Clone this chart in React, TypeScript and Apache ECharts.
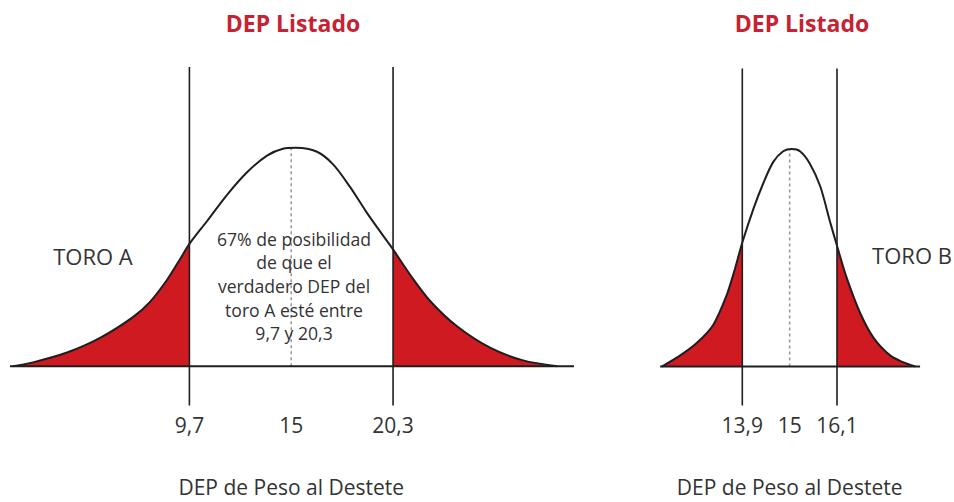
import React, { useEffect, useRef } from "react";
import * as echarts from "echarts";

// ---- Data ----
const TITLE = "DEP Listado";
const AXIS_NAME = "DEP de Peso al Destete";
const LABEL_A = "TORO A";
const LABEL_B = "TORO B";
const NOTE_A = "67% de posibilidad\nde que el\nverdadero DEP del\ntoro A esté entre\n9,7 y 20,3";

const MEAN_A = 15;
const BOUNDS_A = [9.7, 20.3];
const TICKS_A = [9.7, 15, 20.3];
const CURVE_A_X = [0.52, 1.56, 3.33, 5.05, 6.76, 7.65, 8.53, 9.21, 9.7, 10.62, 11.66, 12.7, 13.74, 14.57, 15.25, 16.34, 17.18, 18.06, 18.95, 19.78, 20.3, 21.18, 22.23, 23.63, 25.35, 27.07, 28.84];
const CURVE_A_Y = [0, 1.8, 6.3, 13.0, 22.5, 29.5, 39.5, 49.0, 56.0, 66.5, 78.5, 88.8, 96.4, 99.6, 100, 98.2, 92.4, 82.1, 70.1, 59.8, 53.5, 42.0, 29.9, 18.3, 8.5, 2.7, 0];
const BASE_A = [0.36, 29.72];

const MEAN_B = 15;
const BOUNDS_B = [13.9, 16.1];
const TICKS_B = [13.9, 15, 16.1];
const CURVE_B_X = [12.03, 12.45, 12.84, 13.22, 13.54, 13.73, 13.9, 14.16, 14.39, 14.62, 14.85, 15.05, 15.24, 15.47, 15.71, 15.94, 16.1, 16.33, 16.64, 16.95, 17.34, 17.63, 17.92];
const CURVE_B_Y = [0, 5.0, 10.8, 19.0, 33.0, 45.0, 57.0, 72.6, 84.4, 94.1, 99.0, 100, 99.0, 93.3, 82.9, 66.5, 55.5, 40.5, 24.5, 13.2, 5.0, 2.0, 0];
const BASE_B = [11.99, 18.03];

// ---- Style ----
const FONT = "Open Sans";
const RED_FILL = "#cf1a21";
const RED_TITLE = "#c62232";
const INK = "#1e1e1e";
const TEXT = "#333333";
const GUIDE_TOP = 137;
const GUIDE_BOTTOM = -17.9;

const fmt = (v: number) => String(v).replace(".", ",");

function panelSeries(
  idx: number,
  xs: number[],
  ys: number[],
  bounds: number[],
  mean: number,
  base: number[]
) {
  const pts = xs.map((x, i) => [x, ys[i]]);
  const leftTail = pts.filter((p) => p[0] <= bounds[0]);
  const rightTail = pts.filter((p) => p[0] >= bounds[1]);
  const peak = Math.max(...ys);
  const common = {
    type: "line",
    xAxisIndex: idx,
    yAxisIndex: idx,
    symbol: "none",
    silent: true,
  };
  const smooth = 0.3;
  return [
    {
      ...common,
      data: leftTail,
      smooth,
      lineStyle: { width: 0 },
      areaStyle: { color: RED_FILL, opacity: 1 },
      z: 1,
    },
    {
      ...common,
      data: rightTail,
      smooth,
      lineStyle: { width: 0 },
      areaStyle: { color: RED_FILL, opacity: 1 },
      z: 1,
    },
    {
      ...common,
      data: [
        [mean, 0],
        [mean, peak],
      ],
      lineStyle: { color: "#9a9a9a", width: 1.6, type: [3, 3] },
      z: 2,
    },
    {
      ...common,
      data: pts,
      smooth,
      lineStyle: { color: INK, width: 2 },
      z: 4,
    },
    {
      ...common,
      data: [
        [base[0], 0],
        [base[1], 0],
      ],
      lineStyle: { color: INK, width: 2 },
      z: 4,
    },
    ...bounds.map((b) => ({
      ...common,
      data: [
        [b, GUIDE_BOTTOM],
        [b, GUIDE_TOP],
      ],
      lineStyle: { color: INK, width: 1.6 },
      z: 5,
    })),
  ];
}

function xAxisFor(idx: number, min: number, max: number, ticks: number[]) {
  return {
    gridIndex: idx,
    type: "value",
    min,
    max,
    axisLine: { show: false },
    axisTick: { show: false },
    splitLine: { show: false },
    axisLabel: {
      customValues: ticks,
      formatter: (v: number) => fmt(v),
      fontSize: 21,
      fontFamily: FONT,
      color: TEXT,
      margin: 4,
    },
    name: AXIS_NAME,
    nameLocation: "middle",
    nameGap: 66,
    nameTextStyle: { fontSize: 21, fontFamily: FONT, color: TEXT },
  };
}

export default function App() {
  const ref = useRef<HTMLDivElement>(null);
  useEffect(() => {
    if (!ref.current) return;
    const chart = echarts.init(ref.current, null, { renderer: "svg" });
    const titleStyle = { fontSize: 23, fontWeight: "bold", fontFamily: FONT, color: RED_TITLE };
    const option = {
      animation: false,
      backgroundColor: "#ffffff",
      title: [
        { text: TITLE, left: 288, top: 6, textAlign: "center", textStyle: titleStyle },
        { text: TITLE, left: 797, top: 6, textAlign: "center", textStyle: titleStyle },
      ],
      grid: [
        { left: 3.06, right: 374.6, top: 60.4, bottom: 83.2 },
        { left: 639.0, right: 13.7, top: 62.1, bottom: 81.5 },
      ],
      xAxis: [xAxisFor(0, 0, 30, TICKS_A), xAxisFor(1, 11.5, 18.5, TICKS_B)],
      yAxis: [
        { gridIndex: 0, type: "value", min: -20, max: 140, show: false },
        { gridIndex: 1, type: "value", min: -20, max: 140, show: false },
      ],
      graphic: [
        {
          type: "text",
          x: 93,
          y: 256,
          style: {
            text: LABEL_A,
            fontSize: 22,
            fontFamily: FONT,
            fill: TEXT,
            textAlign: "center",
            textVerticalAlign: "middle",
          },
          z: 10,
        },
        {
          type: "text",
          x: 912,
          y: 255,
          style: {
            text: LABEL_B,
            fontSize: 22,
            fontFamily: FONT,
            fill: TEXT,
            textAlign: "center",
            textVerticalAlign: "middle",
          },
          z: 10,
        },
        {
          type: "text",
          x: 294,
          y: 286,
          style: {
            text: NOTE_A,
            fontSize: 17.6,
            lineHeight: 23.6,
            fontFamily: FONT,
            fill: TEXT,
            textAlign: "center",
            textVerticalAlign: "middle",
          },
          z: 10,
        },
      ],
      series: [
        ...panelSeries(0, CURVE_A_X, CURVE_A_Y, BOUNDS_A, MEAN_A, BASE_A),
        ...panelSeries(1, CURVE_B_X, CURVE_B_Y, BOUNDS_B, MEAN_B, BASE_B),
      ],
    };
    chart.setOption(option as any);
    return () => chart.dispose();
  }, []);
  return (
    <div
      ref={ref}
      style={{ position: "fixed", left: 0, top: 0, width: 954, height: 502, background: "#fff" }}
    />
  );
}
